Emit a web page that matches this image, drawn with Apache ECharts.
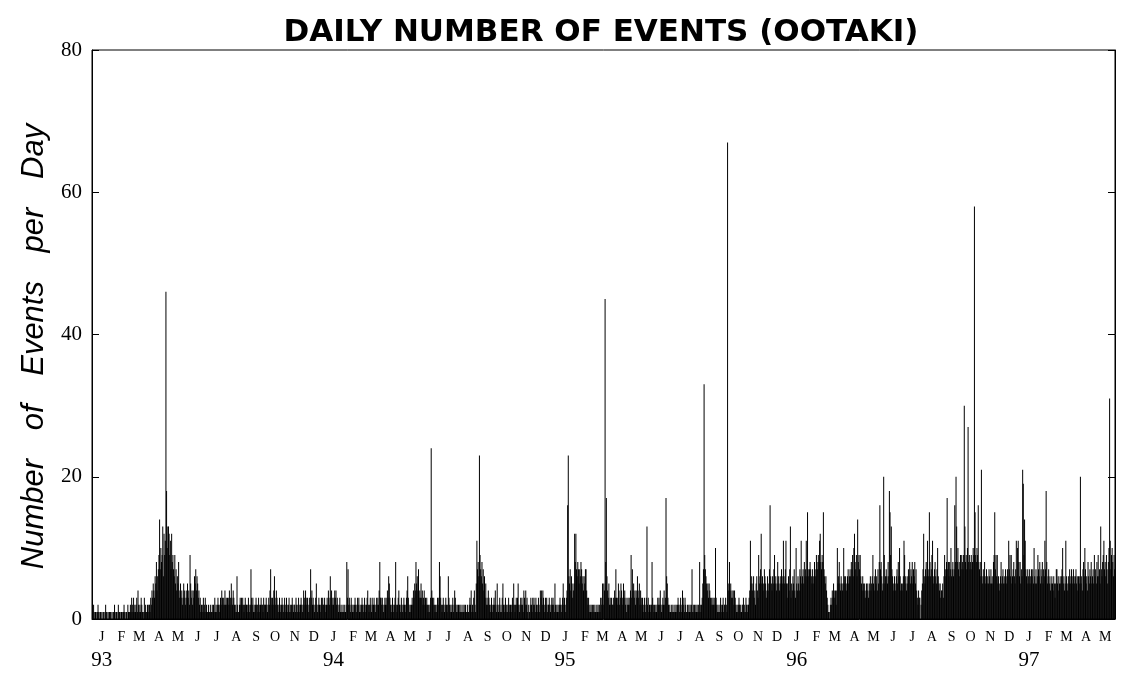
<!DOCTYPE html>
<html>
<head>
<meta charset="utf-8">
<title>Daily number of events (Ootaki)</title>
<script src="https://cdn.jsdelivr.net/npm/echarts@6/dist/echarts.min.js"></script>
<style>
  html, body { margin: 0; background: #fff; }
  #chart { width: 1123px; height: 675px; }
</style>
</head>
<body>
<div id="chart"></div>
<script>
// daily counts, one array per month (read off the plot, so approximate)
const counts1993 = [
  [1,0,2,1,0,1,1,0,1,2,1,0,1,1,0,1,0,1,1,0,1,2,1,1,0,1,0,1,1,1,0],
  [1,0,1,1,2,1,0,1,1,0,2,1,1,0,1,1,0,1,1,2,1,0,1,1,0,2,1,1],
  [1,2,1,3,2,1,3,1,2,1,2,3,1,4,2,1,2,1,3,2,1,0,1,3,1,2,1,1,2,1,2],
  [2,1,3,2,4,3,5,4,3,6,5,8,4,6,7,9,14,7,10,8,9,13,6,12,9,11,46,18,10,13],
  [13,12,9,11,7,12,8,9,7,6,9,5,7,4,6,5,8,3,4,5,3,4,2,3,5,4,3,2,4,3,5],
  [3,4,2,9,5,3,4,2,4,3,6,5,7,4,6,5,3,4,2,3,1,2,1,2,3,1,2,3,1,2],
  [1,1,2,1,1,2,1,1,2,1,2,1,3,1,2,1,2,3,2,1,2,3,2,4,3,2,3,2,4,2,3],
  [2,3,2,3,4,2,3,5,3,2,4,3,2,1,2,1,6,2,1,1,2,3,2,3,2,3,2,1,2,3,2],
  [2,1,2,3,2,1,2,7,3,2,3,1,2,1,2,3,2,2,1,3,2,1,2,3,2,2,1,3,2,2],
  [2,3,2,1,2,3,2,4,7,3,2,3,2,4,6,3,2,4,3,2,1,2,3,2,1,2,3,2,1,2,3],
  [2,1,3,2,1,2,3,1,2,1,2,3,2,1,2,2,1,3,2,1,2,3,1,2,2,3,2,1,2,4],
  [3,2,4,3,2,3,2,1,3,2,7,3,4,2,3,2,1,2,3,5,2,1,2,3,2,1,2,3,2,3,2]
]
const counts1994 = [
  [2,3,2,1,2,3,2,4,3,2,6,3,4,2,3,2,3,4,3,4,2,3,2,1,2,3,1,2,1,1,2],
  [1,2,1,1,2,8,3,7,2,3,2,1,3,2,1,2,1,2,3,2,1,2,3,2,3,1,2,1],
  [2,3,2,1,2,3,2,1,2,3,4,2,1,2,3,2,1,3,2,2,3,2,1,2,3,2,3,2,4,8,3],
  [3,2,3,2,1,2,3,2,3,2,4,3,6,5,3,2,1,2,3,2,1,2,3,8,2,1,2,3,4,2],
  [2,1,3,2,1,2,3,2,1,2,3,4,6,3,2,1,2,1,2,3,2,4,3,5,4,8,5,6,4,7,3],
  [4,3,5,3,4,2,3,4,2,3,2,3,2,1,2,1,2,3,24,4,3,2,3,2,1,2,1,2,3,2],
  [3,8,6,3,2,1,2,3,2,1,2,3,2,1,2,6,3,2,1,2,1,2,3,1,2,4,3,2,1,2,1],
  [2,1,2,1,2,1,1,2,1,2,1,2,1,1,2,1,1,2,3,2,4,1,2,1,3,4,2,1,5,11,7],
  [8,6,23,9,7,6,8,5,7,4,6,3,5,2,3,2,4,3,2,1,2,3,2,1,2,3,2,4,2,1],
  [5,2,1,2,3,1,2,1,3,5,2,1,2,3,1,2,1,2,3,2,1,2,1,2,3,2,5,2,1,2,3],
  [2,3,5,2,1,2,3,2,3,2,1,4,3,2,4,2,3,1,2,0,1,2,3,2,1,3,2,3,2,1],
  [3,2,1,2,3,2,1,4,3,4,2,4,3,2,1,3,2,3,1,2,2,3,2,1,2,3,2,3,2,1,5]
]
const counts1995 = [
  [2,1,2,1,2,1,2,3,2,1,2,3,5,2,3,2,1,3,4,16,23,6,5,7,4,6,5,3,4,5,12],
  [8,12,7,6,8,7,5,7,6,8,7,5,6,4,6,5,7,7,4,3,2,3,1,2,1,2,1,2],
  [1,2,1,2,1,1,2,1,2,1,2,1,3,2,3,5,2,5,4,45,8,17,6,4,3,5,2,3,2,3,2],
  [2,3,2,4,3,7,3,2,3,5,4,2,3,5,4,3,2,5,3,4,2,3,1,2,3,2,3,2,4,9],
  [3,7,4,5,3,4,2,4,3,6,4,3,5,2,4,3,2,3,1,2,3,2,1,3,13,2,3,1,2,1,2],
  [2,8,3,2,1,2,1,2,1,2,3,2,3,2,4,2,1,2,3,2,4,2,3,17,6,5,3,2,1,2],
  [1,1,2,1,2,1,1,2,1,2,1,2,3,2,1,2,3,1,2,4,3,2,1,3,2,1,1,2,1,2,1],
  [2,1,2,7,1,2,1,2,1,2,1,2,1,2,1,8,2,1,2,3,5,7,33,9,7,6,5,4,5,3,5],
  [4,3,2,3,2,3,2,3,2,10,3,2,1,2,1,1,2,3,2,1,2,3,1,2,2,3,2,1,67,4],
  [5,8,4,5,3,4,3,4,2,4,3,2,1,2,1,2,3,2,2,1,1,2,2,3,1,2,1,3,2,1,2],
  [2,3,4,11,5,6,4,5,6,3,4,2,5,6,4,3,9,5,6,7,12,5,6,4,5,7,6,5,3,4],
  [6,4,5,7,16,6,5,4,6,5,7,9,5,6,4,5,8,6,5,4,6,5,7,6,5,11,6,5,7,11,5]
]
const counts1996 = [
  [5,3,6,4,7,13,3,5,4,6,5,7,4,3,10,5,4,6,5,4,7,6,11,5,6,7,5,8,6,7,11],
  [6,15,7,6,7,8,7,6,5,7,6,5,8,7,6,9,8,7,9,8,11,12,8,7,9,8,15,7,6],
  [5,6,4,3,2,1,0,1,2,3,2,4,3,5,4,3,4,2,4,10,5,6,8,5,4,6,5,4,5,10,6],
  [5,6,4,5,6,7,5,6,7,6,8,7,9,6,10,12,8,7,9,6,14,8,9,7,9,6,5,4,6,5],
  [4,5,3,4,5,4,5,3,4,5,6,4,5,6,9,5,4,6,7,5,6,4,7,5,8,16,7,8,6,4,5],
  [20,9,5,6,7,6,5,8,6,18,15,9,13,7,6,5,4,6,5,4,6,7,5,8,6,10,6,4,5,4],
  [5,6,11,9,6,5,4,6,5,7,6,8,5,7,6,8,5,7,6,8,5,7,4,3,2,4,3,3,0,2,4],
  [5,7,12,6,5,7,8,6,11,7,6,15,8,6,7,9,11,6,5,7,8,6,5,7,10,6,5,4,5,3,4],
  [4,5,3,6,9,7,6,8,17,7,8,6,8,7,10,6,7,8,6,7,16,8,20,13,8,10,7,8,6,9],
  [7,9,8,7,9,30,13,8,9,7,10,27,8,9,7,8,9,7,8,10,9,58,15,9,8,10,9,16,8,7,6],
  [8,21,6,5,7,6,8,5,6,7,5,6,5,7,6,5,7,5,6,5,8,9,15,7,9,6,9,5,6,4],
  [5,6,8,5,6,7,5,6,5,7,6,5,7,6,11,7,9,6,9,5,6,7,8,6,5,7,11,6,10,11,8]
]
const counts1997 = [
  [6,8,5,7,6,21,19,9,14,11,7,6,5,7,6,5,7,6,5,7,6,7,5,10,6,5,7,5,6,9,7],
  [6,8,5,7,6,8,5,7,6,11,7,18,8,5,6,7,5,6,4,5,6,5,4,6,5,3,5,7],
  [7,5,6,4,5,6,5,6,7,10,5,6,4,5,11,6,5,4,6,5,7,5,6,7,6,5,7,6,5,6,7],
  [5,6,4,6,5,6,20,5,6,4,7,8,6,10,7,5,6,4,8,6,5,7,6,8,5,6,7,5,9,6],
  [7,5,8,6,9,6,7,5,13,7,6,8,9,11,7,8,6,9,7,5,8,10,31,11,7,9,10,8,6,9,7]
]

const years = [1993, 1994, 1995, 1996, 1997]
const yearCounts = [counts1993, counts1994, counts1995, counts1996, counts1997]
const monthLetters = ['J', 'F', 'M', 'A', 'M', 'J', 'J', 'A', 'S', 'O', 'N', 'D']
const yearLabels = ['93', '94', '95', '96', '97']

// flatten into one category per day
const days = []
const values = []
years.forEach((yr, i) => {
  yearCounts[i].forEach((month, m) => {
    month.forEach((v, d) => {
      days.push(yr + '-' + (m + 1) + '-' + (d + 1))
      values.push(v)
    })
  })
})

const serif = 'Liberation Serif'
const sans = 'Liberation Sans'
const nameFont = { fontFamily: sans, fontStyle: 'italic', fontSize: 31, color: '#000' }

const chart = echarts.init(document.getElementById('chart'))
chart.setOption({
  animation: false,
  backgroundColor: '#fff',
  title: {
    text: 'DAILY NUMBER OF EVENTS (OOTAKI)',
    left: 596,
    top: 12,
    textAlign: 'center',
    textStyle: {
      fontFamily: 'DejaVu Sans',
      fontWeight: 'bold',
      fontSize: 31,
      color: '#000'
    }
  },
  grid: {
    left: 92,
    right: 8,
    top: 50,
    bottom: 56,
    show: true,
    borderColor: '#000',
    borderWidth: 1,
    outerBoundsMode: 'none'
  },
  xAxis: {
    type: 'category',
    data: days,
    axisLine: { lineStyle: { color: '#000', width: 1 } },
    axisTick: { show: false },
    splitLine: { show: false },
    axisLabel: {
      hideOverlap: false,
      margin: 9,
      interval: function (index, value) {
        return value.split('-')[2] === '16'
      },
      formatter: function (value) {
        const parts = value.split('-')
        const m = +parts[1]
        const letter = '{m|' + monthLetters[m - 1] + '}'
        if (m === 1) {
          return letter + '\n{y|' + yearLabels[years.indexOf(+parts[0])] + '}'
        }
        return letter
      },
      rich: {
        m: { fontFamily: serif, fontSize: 14, color: '#000', lineHeight: 18 },
        y: { fontFamily: serif, fontSize: 21, color: '#000', lineHeight: 28 }
      }
    }
  },
  yAxis: [
    {
      type: 'value',
      min: 0,
      max: 80,
      interval: 20,
      // wide word spacing like the original lettering
      name: '{w|Number} {w|of} {w|Events} {w|per} {d|Day}',
      nameLocation: 'middle',
      nameGap: 41,
      nameTextStyle: Object.assign({}, nameFont, {
        rich: {
          w: Object.assign({}, nameFont, { padding: [0, 10] }),
          d: Object.assign({}, nameFont, { padding: [0, 34, 0, 10] })
        }
      }),
      axisLine: { show: true, lineStyle: { color: '#000', width: 1 } },
      axisTick: { show: true, inside: true, length: 7, lineStyle: { color: '#000' } },
      splitLine: { show: false },
      axisLabel: { fontFamily: serif, fontSize: 21, color: '#000', margin: 10 }
    },
    {
      type: 'value',
      position: 'right',
      min: 0,
      max: 80,
      interval: 20,
      axisLine: { show: true, lineStyle: { color: '#000', width: 1 } },
      axisTick: { show: true, inside: true, length: 7, lineStyle: { color: '#000' } },
      splitLine: { show: false },
      axisLabel: { show: false }
    }
  ],
  series: [
    {
      type: 'bar',
      data: values,
      barWidth: 1,
      silent: true,
      itemStyle: { color: '#000' }
    }
  ]
})
</script>
</body>
</html>
